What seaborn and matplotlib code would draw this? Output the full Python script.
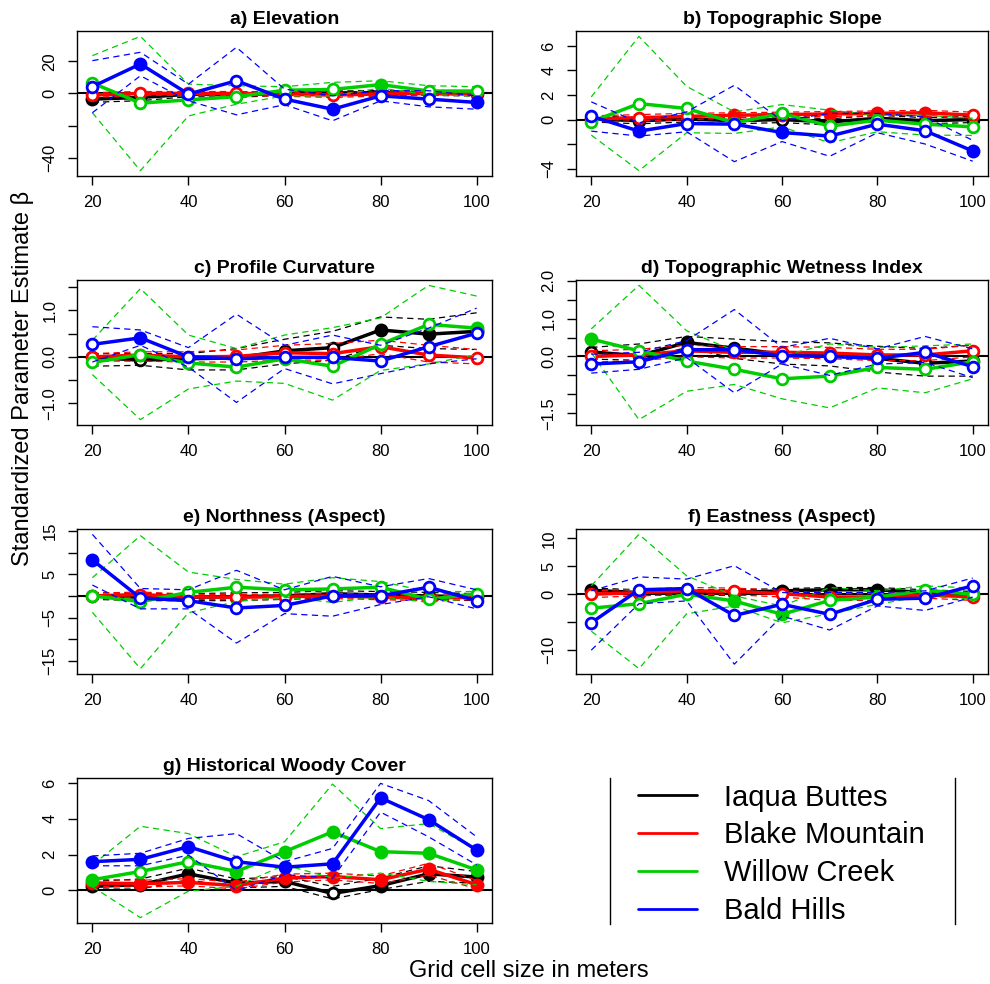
import numpy as np
import pandas as pd
import matplotlib
matplotlib.use("Agg")
import matplotlib.pyplot as plt
from matplotlib.lines import Line2D
import seaborn as sns

# ---------------------------------------------------------------------------
# Data: standardized parameter estimates (beta) with 95% bounds, per grid size.
# Each block holds one row per site, in the order of `sites`.
# `*_sig` marks estimates whose interval excludes zero (drawn as filled dots).
# ---------------------------------------------------------------------------
grid_sizes = [20, 30, 40, 50, 60, 70, 80, 90, 100]
sites = ["Iaqua Buttes", "Blake Mountain", "Willow Creek", "Bald Hills"]
site_colors = ["#000000", "#FF0000", "#00CD00", "#0000FF"]

# a) Elevation
elev_est = [[-3.5, -2.5, -0.5, -0.8, 0.2, 0.3, 0.5, 0.0, -0.3],
            [-1.0, 0.0, 0.0, 0.0, -0.5, -1.0, -0.3, 0.0, 0.2],
            [6.5, -6.0, -4.0, -2.0, 2.0, 2.5, 5.5, 1.5, 1.5],
            [4.2, 18.3, -0.4, 7.9, -3.5, -9.8, -1.5, -3.5, -5.6]]
elev_hi = [[-1.5, -0.5, 1.0, 0.8, 1.5, 1.5, 1.8, 1.2, 1.0],
           [0.5, 1.2, 1.2, 1.2, 0.8, 0.5, 1.0, 1.2, 1.5],
           [23.5, 35.5, 5.8, 4.8, 4.2, 6.9, 7.9, 4.8, 4.2],
           [20.4, 25.6, 5.8, 28.7, 2.7, -1.5, 1.7, 1.7, -1.5]]
elev_lo = [[-5.5, -4.5, -2.0, -2.4, -1.1, -0.9, -0.8, -1.2, -1.6],
           [-2.5, -1.2, -1.2, -1.2, -1.8, -2.5, -1.6, -1.2, -1.1],
           [-12.0, -48.0, -14.0, -6.7, -1.5, -1.5, 3.3, -0.8, -1.5],
           [-12.0, 11.0, -4.6, -13.3, -7.0, -17.0, -4.6, -8.3, -9.8]]
elev_sig = [[1, 1, 0, 0, 0, 0, 0, 0, 0],
            [0, 0, 0, 0, 0, 0, 0, 0, 0],
            [0, 0, 0, 0, 0, 0, 1, 0, 0],
            [0, 1, 0, 0, 0, 1, 0, 0, 1]]

# b) Topographic Slope
slope_est = [[0.05, -0.1, 0.05, -0.1, 0.0, -0.2, 0.1, -0.1, 0.0],
             [0.05, 0.15, 0.25, 0.35, 0.4, 0.45, 0.5, 0.55, 0.35],
             [-0.19, 1.3, 0.9, -0.27, 0.49, -0.54, -0.05, -0.38, -0.6],
             [0.27, -0.95, -0.33, -0.38, -1.06, -1.35, -0.38, -0.92, -2.57]]
slope_hi = [[0.3, 0.15, 0.3, 0.15, 0.25, 0.05, 0.35, 0.15, 0.25],
            [0.3, 0.4, 0.5, 0.55, 0.6, 0.65, 0.7, 0.75, 0.6],
            [1.84, 6.78, 2.7, 0.62, 1.22, 0.76, 0.35, 0.35, 0.1],
            [1.44, -0.27, 0.62, 2.79, -0.1, 0.5, 0.5, 0.2, -1.7]]
slope_lo = [[-0.2, -0.35, -0.2, -0.35, -0.25, -0.45, -0.15, -0.35, -0.25],
            [-0.2, -0.1, -0.02, 0.15, 0.2, 0.25, 0.3, 0.35, 0.1],
            [-1.27, -4.17, -1.08, -1.14, -0.6, -1.9, -1.0, -1.27, -1.3],
            [-0.95, -1.35, -1.0, -3.44, -1.8, -3.0, -1.08, -2.0, -3.4]]
slope_sig = [[0, 0, 0, 0, 0, 0, 0, 0, 0],
             [0, 0, 0, 1, 1, 1, 1, 1, 0],
             [0, 0, 0, 0, 0, 0, 0, 0, 0],
             [0, 1, 0, 0, 1, 0, 0, 0, 1]]

# c) Profile Curvature
curv_est = [[-0.01, -0.07, -0.04, -0.02, 0.13, 0.2, 0.58, 0.49, 0.55],
            [0.0, 0.04, 0.0, 0.01, 0.09, 0.07, 0.22, 0.04, -0.02],
            [-0.12, 0.05, -0.13, -0.22, -0.04, -0.2, 0.27, 0.7, 0.62],
            [0.27, 0.41, 0.0, -0.04, -0.01, -0.01, -0.09, 0.22, 0.51]]
curv_hi = [[0.07, 0.07, 0.07, 0.18, 0.38, 0.55, 0.86, 0.81, 0.95],
           [0.07, 0.11, 0.11, 0.15, 0.25, 0.29, 0.36, 0.25, 0.16],
           [0.36, 1.47, 0.47, 0.18, 0.47, 0.63, 0.84, 1.54, 1.31],
           [0.65, 0.58, 0.2, 0.92, 0.25, 0.47, 0.25, 0.62, 1.05]]
curv_lo = [[-0.2, -0.18, -0.28, -0.28, -0.15, -0.07, 0.25, 0.18, 0.16],
           [-0.09, -0.09, -0.11, -0.11, -0.07, -0.07, 0.07, -0.11, -0.15],
           [-0.38, -1.35, -0.69, -0.52, -0.57, -0.93, -0.29, -0.15, 0.05],
           [-0.11, 0.25, -0.22, -0.98, -0.25, -0.58, -0.36, -0.15, -0.04]]
curv_sig = [[0, 0, 0, 0, 0, 0, 1, 1, 1],
            [0, 0, 0, 0, 0, 0, 0, 0, 0],
            [0, 0, 0, 0, 0, 0, 0, 0, 1],
            [0, 1, 0, 0, 0, 0, 0, 0, 0]]

# d) Topographic Wetness Index
twi_est = [[0.12, 0.02, 0.37, 0.22, 0.06, 0.02, -0.05, -0.18, -0.12],
           [0.0, 0.04, 0.15, 0.11, 0.11, 0.09, 0.04, 0.04, 0.15],
           [0.46, 0.15, -0.12, -0.34, -0.59, -0.52, -0.29, -0.34, -0.14],
           [-0.2, -0.14, 0.18, 0.18, 0.02, 0.0, -0.05, 0.11, -0.27]]
twi_hi = [[0.24, 0.33, 0.53, 0.46, 0.39, 0.36, 0.27, 0.21, 0.3],
          [0.15, 0.19, 0.3, 0.26, 0.26, 0.24, 0.19, 0.19, 0.3],
          [0.73, 1.88, 0.68, 0.15, 0.02, 0.33, 0.24, 0.28, 0.33],
          [0.06, 0.11, 0.42, 1.24, 0.24, 0.48, 0.2, 0.53, 0.2]]
twi_lo = [[-0.07, -0.1, 0.24, -0.05, -0.2, -0.25, -0.41, -0.52, -0.52],
          [-0.15, -0.11, -0.01, -0.04, -0.04, -0.06, -0.11, -0.11, -0.01],
          [0.1, -1.67, -0.92, -0.74, -1.12, -1.36, -0.83, -0.96, -0.59],
          [-0.44, -0.34, -0.03, -0.96, -0.2, -0.5, -0.2, -0.16, -0.56]]
twi_sig = [[0, 0, 1, 0, 0, 0, 0, 0, 0],
           [0, 0, 0, 0, 0, 0, 0, 0, 0],
           [1, 0, 0, 0, 0, 0, 0, 0, 0],
           [0, 0, 0, 0, 0, 0, 0, 0, 0]]

# e) Northness (Aspect)
north_est = [[0.0, -0.3, -0.3, -0.2, 0.0, 0.5, 0.2, 0.0, -0.3],
             [0.0, 0.3, -0.2, -0.3, -0.2, 0.0, -0.3, -0.5, -0.3],
             [0.0, -1.3, 0.8, 2.0, 1.4, 1.6, 2.0, -0.8, 0.5],
             [8.3, -0.5, -1.1, -2.8, -2.2, 0.0, 0.0, 2.0, -1.1]]
north_hi = [[0.8, 0.5, 0.5, 0.7, 0.8, 1.2, 1.0, 0.8, 0.5],
            [0.6, 0.9, 0.4, 0.3, 0.4, 0.6, 0.3, 0.1, 0.3],
            [4.2, 13.9, 5.5, 3.8, 2.7, 4.2, 3.3, 1.0, 1.0],
            [14.2, 1.7, 1.4, 5.9, 1.4, 4.5, 2.1, 4.0, 1.4]]
north_lo = [[-0.8, -1.1, -1.1, -1.1, -0.8, -0.3, -0.6, -0.8, -1.1],
            [-0.6, -0.3, -0.8, -0.9, -0.8, -0.6, -0.9, -1.1, -0.9],
            [-3.8, -16.8, -3.9, -1.3, -0.3, -1.5, -0.2, -1.5, -0.5],
            [2.5, -3.0, -3.0, -10.9, -4.1, -4.7, -2.0, -0.2, -3.0]]
north_sig = [[0, 0, 0, 0, 0, 0, 0, 0, 0],
             [0, 0, 0, 0, 0, 0, 0, 0, 0],
             [0, 0, 0, 0, 0, 0, 0, 0, 0],
             [1, 0, 0, 0, 0, 0, 0, 0, 0]]

# f) Eastness (Aspect)
east_est = [[0.7, 0.3, 0.3, 0.3, 0.6, 0.8, 0.8, 0.3, 0.0],
            [0.0, 0.3, 0.6, 0.5, 0.1, -0.5, -0.5, -0.1, -0.5],
            [-2.5, -1.7, 0.0, -1.2, -3.6, -1.1, -0.5, 0.7, 0.0],
            [-5.1, 0.8, 1.0, -3.8, -1.8, -3.6, -0.9, -0.7, 1.5]]
east_hi = [[1.1, 0.8, 0.8, 0.8, 1.0, 1.2, 1.2, 0.8, 0.5],
           [0.6, 0.9, 1.2, 1.1, 0.7, 0.1, 0.1, 0.5, 0.1],
           [1.5, 10.7, 3.3, -0.3, -2.1, 1.2, 0.6, 1.5, 1.1],
           [0.6, 3.1, 2.7, 5.1, 0.3, 0.3, 0.3, 0.6, 2.9]]
east_lo = [[0.2, -0.2, -0.2, -0.2, 0.1, 0.3, 0.3, -0.2, -0.5],
           [-0.6, -0.3, -0.05, -0.1, -0.5, -1.1, -1.1, -0.7, -1.1],
           [-6.6, -13.3, -3.5, -2.1, -5.1, -3.5, -1.8, -0.3, -0.9],
           [-10.0, -1.7, -1.2, -12.5, -3.9, -6.4, -2.1, -2.9, -0.5]]
east_sig = [[1, 0, 0, 0, 1, 1, 1, 0, 0],
            [0, 0, 0, 0, 0, 0, 0, 0, 0],
            [0, 0, 0, 1, 1, 0, 0, 0, 0],
            [0, 0, 0, 0, 0, 0, 0, 0, 0]]

# g) Historical Woody Cover
woody_est = [[0.22, 0.31, 0.92, 0.4, 0.5, -0.18, 0.26, 0.92, 0.74],
             [0.41, 0.37, 0.44, 0.26, 0.68, 0.77, 0.59, 1.18, 0.31],
             [0.59, 1.05, 1.6, 1.05, 2.16, 3.27, 2.16, 2.07, 1.14],
             [1.6, 1.73, 2.44, 1.6, 1.29, 1.48, 5.17, 3.95, 2.25]]
woody_hi = [[0.5, 0.63, 1.24, 0.63, 0.77, 0.22, 0.68, 1.37, 1.05],
            [0.6, 0.56, 0.65, 0.45, 0.9, 0.96, 0.8, 1.51, 0.55],
            [1.42, 3.58, 3.17, 1.88, 2.71, 5.94, 3.45, 3.73, 2.25],
            [1.92, 2.07, 2.9, 3.17, 1.6, 2.34, 5.98, 5.02, 2.99]]
woody_lo = [[0.07, 0.07, 0.59, 0.13, 0.22, -0.48, 0.04, 0.5, 0.4],
            [0.22, 0.18, 0.25, 0.08, 0.46, 0.58, 0.38, 0.85, 0.08],
            [0.2, -1.53, -0.05, 0.22, 1.42, 0.68, 0.96, 0.5, 0.31],
            [1.37, 1.37, 1.97, -0.02, 0.87, 0.68, 4.37, 2.99, 1.42]]
woody_sig = [[1, 1, 1, 1, 1, 0, 1, 1, 1],
             [1, 1, 1, 1, 1, 1, 1, 1, 1],
             [1, 0, 0, 1, 1, 1, 1, 1, 1],
             [1, 1, 1, 0, 1, 1, 1, 1, 1]]

x_ticks = [20, 40, 60, 80, 100]

# panel title, data blocks, y ticks and their labels (crowded labels left blank)
panels = [
    ("a) Elevation", elev_est, elev_lo, elev_hi, elev_sig,
     [-40, -20, 0, 20], ["\u221240", "", "0", "20"]),
    ("b) Topographic Slope", slope_est, slope_lo, slope_hi, slope_sig,
     [-4, -2, 0, 2, 4, 6], ["\u22124", "", "0", "2", "4", "6"]),
    ("c) Profile Curvature", curv_est, curv_lo, curv_hi, curv_sig,
     [-1.0, -0.5, 0.0, 0.5, 1.0, 1.5], ["\u22121.0", "", "0.0", "", "1.0", ""]),
    ("d) Topographic Wetness Index", twi_est, twi_lo, twi_hi, twi_sig,
     [-1.5, -1.0, -0.5, 0.0, 0.5, 1.0, 1.5, 2.0],
     ["\u22121.5", "", "", "0.0", "", "1.0", "", "2.0"]),
    ("e) Northness (Aspect)", north_est, north_lo, north_hi, north_sig,
     [-15, -10, -5, 0, 5, 10, 15], ["\u221215", "", "\u22125", "", "5", "", "15"]),
    ("f) Eastness (Aspect)", east_est, east_lo, east_hi, east_sig,
     [-10, -5, 0, 5, 10], ["\u221210", "", "0", "5", "10"]),
    ("g) Historical Woody Cover", woody_est, woody_lo, woody_hi, woody_sig,
     [0, 2, 4, 6], ["0", "2", "4", "6"]),
]

# ---------------------------------------------------------------------------
# Figure layout (pixel boxes: left, top, right, bottom)
# ---------------------------------------------------------------------------
W, H = 990, 984
col_x = [(77, 492), (576, 988)]
row_y = [(31, 176), (280, 425), (529, 674), (778, 923)]

sns.set_style("ticks")
plt.rcParams["font.family"] = ["Liberation Sans", "DejaVu Sans"]
plt.rcParams["axes.linewidth"] = 1.0
for key in ("text.color", "axes.labelcolor", "xtick.color", "ytick.color",
            "axes.edgecolor"):
    plt.rcParams[key] = "black"

fig = plt.figure(figsize=(W / 100, H / 100), dpi=100)


def px_axes(box):
    l, t, r, b = box
    return fig.add_axes([l / W, 1 - b / H, (r - l) / W, (b - t) / H])


def long_frame(est, lo, hi, sig):
    rows = []
    for s, site in enumerate(sites):
        for i, g in enumerate(grid_sizes):
            rows.append(dict(site=site, size=g, est=est[s][i], lo=lo[s][i],
                             hi=hi[s][i], sig=bool(sig[s][i])))
    return pd.DataFrame(rows)


for k, (title, est, lo, hi, sig, yt, ytl) in enumerate(panels):
    r, c = divmod(k, 2)
    ax = px_axes((col_x[c][0], row_y[r][0], col_x[c][1], row_y[r][1]))
    df = long_frame(est, lo, hi, sig)

    ax.axhline(0, color="black", lw=1.5, zorder=1.5)

    for s, site in enumerate(sites):
        d = df[df["site"] == site]
        col = site_colors[s]
        z = 2 + s
        for bound in ("lo", "hi"):
            sns.lineplot(data=d, x="size", y=bound, color=col, lw=0.9,
                         linestyle=(0, (5, 3.5)), estimator=None, sort=False,
                         ax=ax, zorder=z)
        sns.lineplot(data=d, x="size", y="est", color=col, lw=2.5,
                     estimator=None, sort=False, ax=ax, zorder=z + 0.1)
        full = d[d["sig"]]
        hollow = d[~d["sig"]]
        if len(full):
            sns.scatterplot(data=full, x="size", y="est", color=col, s=100,
                            linewidth=0, ax=ax, zorder=z + 0.2, legend=False)
        if len(hollow):
            sns.scatterplot(data=hollow, x="size", y="est", color=col,
                            facecolor="white", edgecolor=col, s=60,
                            linewidth=2.0, ax=ax, zorder=z + 0.2, legend=False)

    vals = df[["lo", "est", "hi"]].to_numpy()
    ymin, ymax = vals.min(), vals.max()
    pad = 0.04 * (ymax - ymin)
    ax.set_ylim(ymin - pad, ymax + pad)
    ax.set_xlim(20 - 0.04 * 80, 100 + 0.04 * 80)

    ax.set_xticks(x_ticks)
    ax.set_xticklabels([str(v) for v in x_ticks])
    ax.set_yticks(yt)
    ax.set_yticklabels(ytl, rotation=90, va="center")
    ax.tick_params(axis="both", direction="out", length=6.5, width=1.0,
                   labelsize=12, pad=7.5, color="black", labelcolor="black")
    ax.set_xlabel("")
    ax.set_ylabel("")
    for sp in ax.spines.values():
        sp.set_visible(True)
        sp.set_color("black")
        sp.set_linewidth(1.0)
    ax.set_title(title, fontsize=14, fontweight="bold", pad=5, color="black")

# legend panel: bracketed by two vertical rules
lax = px_axes((610, 778, 955, 924))
lax.set_xticks([])
lax.set_yticks([])
lax.patch.set_alpha(0)
for side in ("top", "bottom"):
    lax.spines[side].set_visible(False)
for side in ("left", "right"):
    lax.spines[side].set_color("black")
    lax.spines[side].set_linewidth(1.0)
handles = [Line2D([], [], color=cc, lw=2.0) for cc in site_colors]
lax.legend(handles, sites, loc="upper left", bbox_to_anchor=(28 / 345, 0.962),
           frameon=False, fontsize=21, handlelength=2.03, handletextpad=0.93,
           labelspacing=0.34, borderpad=0, borderaxespad=0, labelcolor="black")

fig.text(23 / W, 1 - 378 / H, "Standardized Parameter Estimate \u03b2",
         rotation=90, ha="center", va="center", fontsize=17, color="black")
fig.text(529 / W, 1 - 971 / H, "Grid cell size in meters",
         ha="center", va="center", fontsize=17, color="black")

fig.savefig("out.png", dpi=100)
